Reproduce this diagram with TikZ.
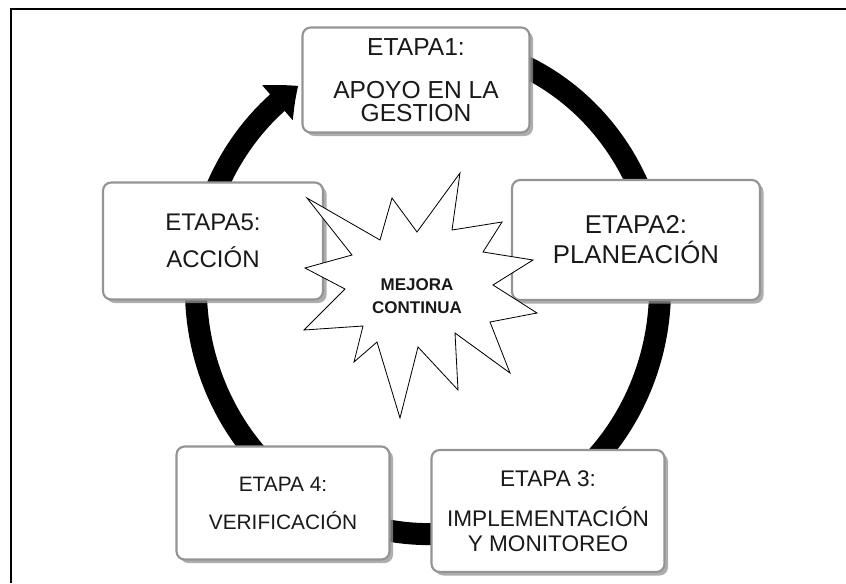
\documentclass[tikz,border=0pt]{standalone}
\usepackage{fontspec}
\setmainfont{Liberation Sans}
\usetikzlibrary{arrows.meta,bending,shadows}
\newlength{\du}
\setlength{\du}{0.03cm}
\definecolor{etapaline}{rgb}{0.58, 0.58, 0.58}
\definecolor{etapatext}{rgb}{0.10, 0.10, 0.10}
\tikzset{
  etapa/.style={draw=etapaline, line width=1.8pt, fill=white, rounded corners=7pt,
    align=center, text=etapatext, inner sep=0pt,
    drop shadow={shadow xshift=3pt, shadow yshift=-3pt, fill=gray!85, opacity=0.75}},
  ring/.style={line width=22\du, black},
  starline/.style={draw=black, line width=0.7pt, fill=white},
}

\begin{document}
\begin{tikzpicture}
\useasboundingbox (0\du,0\du) rectangle (846\du,-583\du);
\draw[line width=1.7pt] (11\du,-583\du)--(11\du,-9\du)--(846\du,-9\du);
% anillo con flecha
\draw[ring, -{Triangle[length=23pt,width=38pt,bend]}] (333.6\du,-65.2\du)
  arc[start angle=114, end angle=-236, x radius=232\du, y radius=245\du];
% etapas
\node[etapa, minimum width=227\du, minimum height=105\du, font=\fontsize{21pt}{19.5pt}\selectfont]
  (etapa1) at (416\du,-80\du) {ETAPA1:\\[17pt]APOYO EN LA\\GESTION};
\node[etapa, minimum width=248\du, minimum height=120\du, font=\fontsize{22pt}{25.6pt}\selectfont]
  (etapa2) at (636\du,-240\du) {ETAPA2:\\PLANEACIÓN};
\node[etapa, minimum width=233\du, minimum height=122\du, font=\fontsize{19.3pt}{21pt}\selectfont]
  (etapa3) at (548\du,-511\du) {ETAPA 3:\\[13pt]IMPLEMENTACIÓN\\Y MONITOREO};
\node[etapa, minimum width=213\du, minimum height=113\du, font=\fontsize{17.8pt}{32.4pt}\selectfont]
  (etapa4) at (283\du,-503\du) {ETAPA 4:\\VERIFICACIÓN};
\node[etapa, minimum width=220\du, minimum height=117\du, font=\fontsize{20.5pt}{31.6pt}\selectfont]
  (etapa5) at (213\du,-241\du) {ETAPA5:\\ACCIÓN};
% estrella central
\draw[starline] (307\du,-198\du)--(380\du,-240\du)--(392\du,-198\du)--(417\du,-232\du)
  --(460\du,-173\du)--(452\du,-230\du)--(502\du,-222\du)--(483\du,-252\du)
  --(533\du,-260\du)--(493\du,-285\du)--(537\du,-313\du)--(490\du,-322\du)
  --(510\du,-373\du)--(455\du,-333\du)--(458\du,-390\du)--(418\du,-347\du)
  --(400\du,-418\du)--(377\du,-342\du)--(354\du,-362\du)--(363\du,-326\du)
  --(304\du,-330\du)--(345\du,-289\du)--(305\du,-268\du)--(352\du,-255\du)--cycle;
\node[align=center, text=etapatext, font=\bfseries\fontsize{14.5pt}{20pt}\selectfont]
  (mejora) at (417\du,-296\du) {MEJORA\\CONTINUA};
\end{tikzpicture}
\end{document}
